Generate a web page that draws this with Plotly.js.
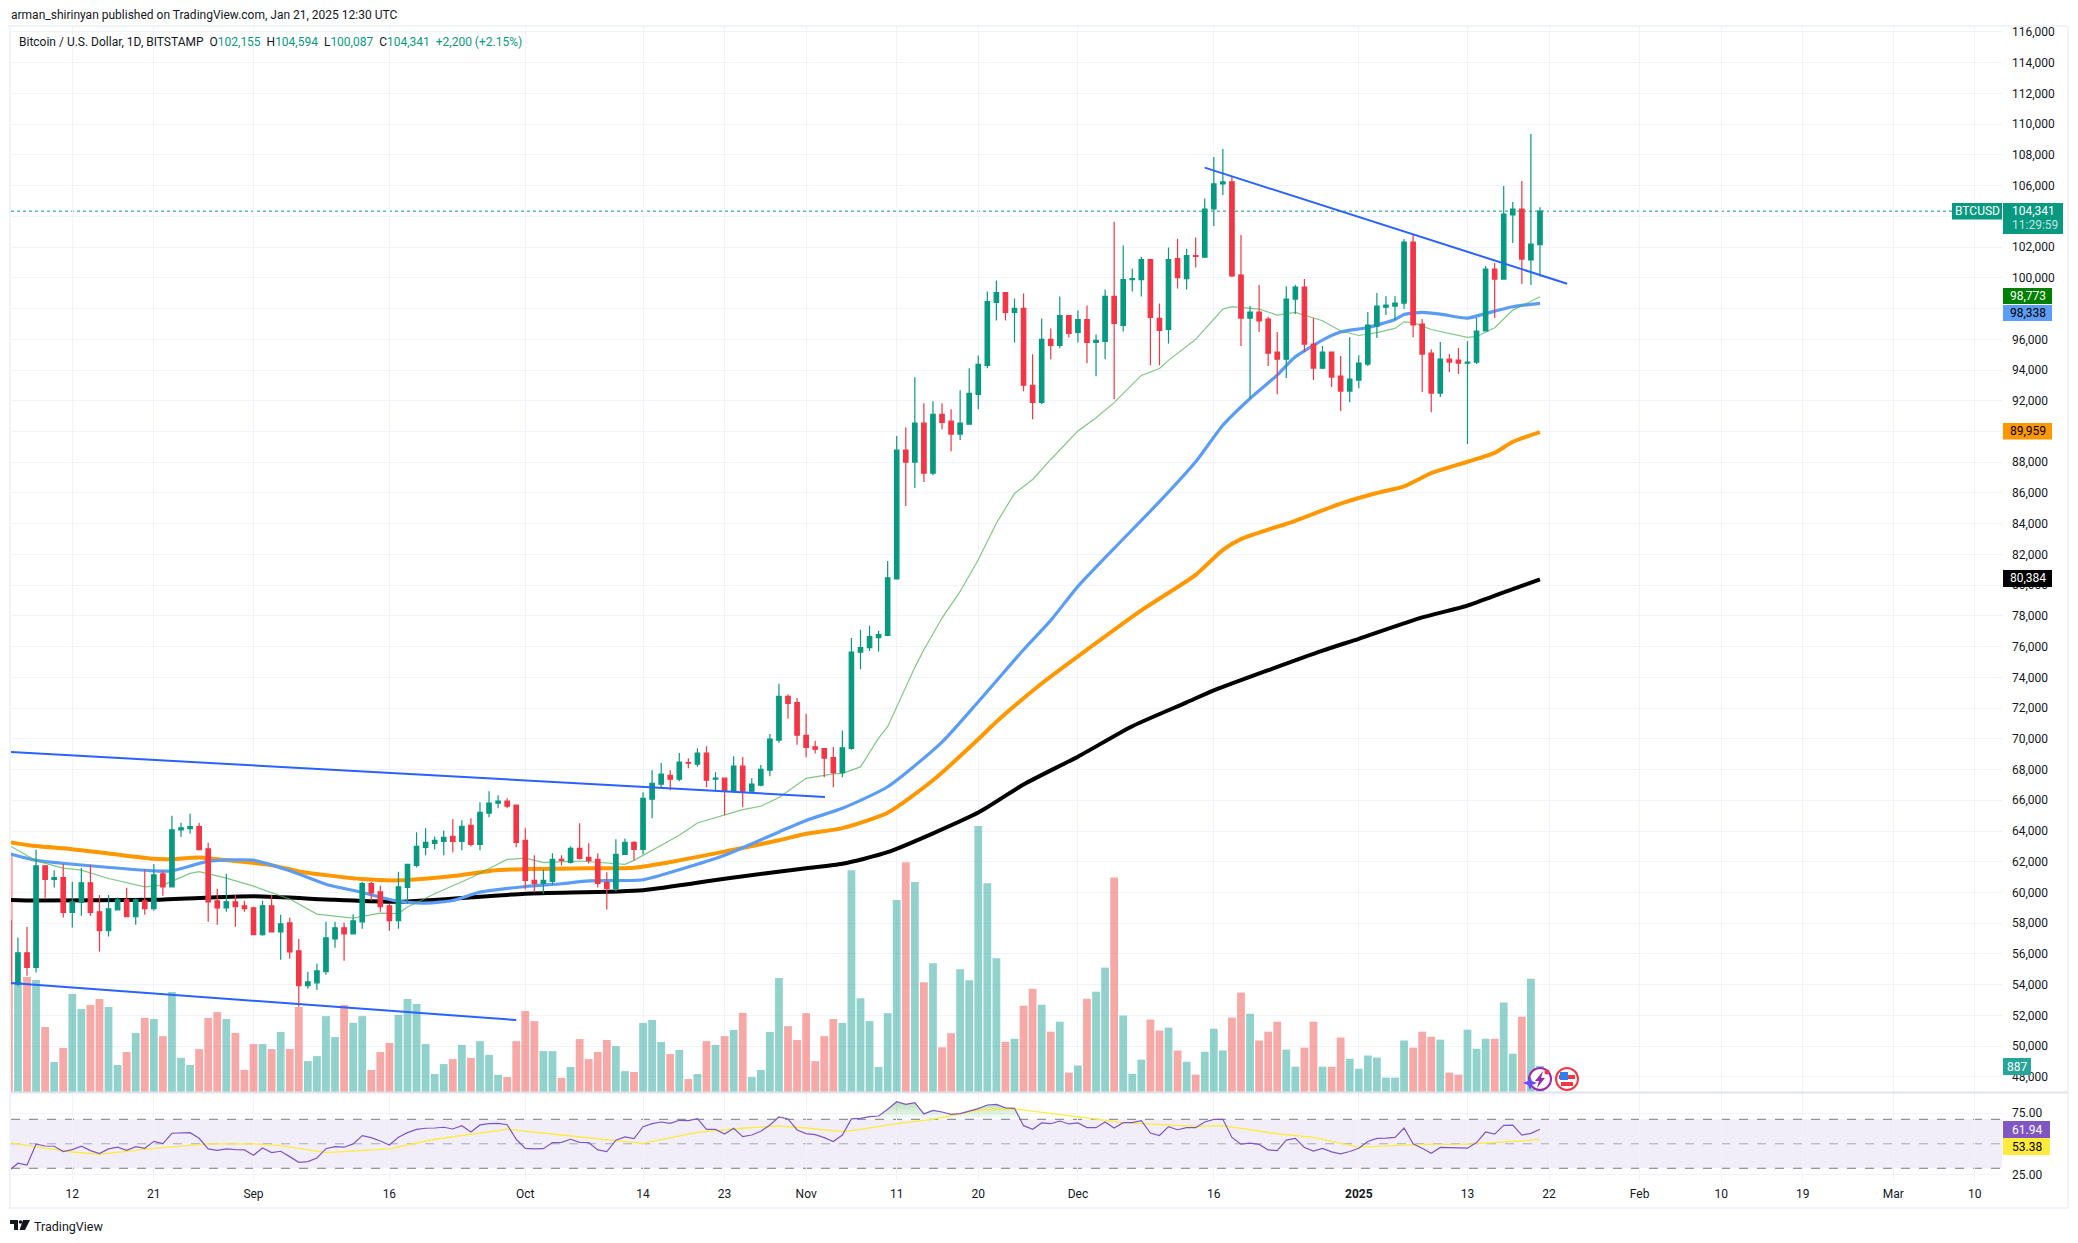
<!DOCTYPE html>
<html><head><meta charset="utf-8"><title>BTCUSD</title>
<script src="https://cdn.plot.ly/plotly-3.0.0.min.js"></script>
<style>html,body{margin:0;padding:0;background:#fff}#chart{width:2078px;height:1243px}</style>
</head><body><div id="chart"></div>
<script>
const firstDay='2024-08-05', barCount=170;
const dates=[];for(let i=0;i<barCount;i++){dates.push(new Date(Date.UTC(2024,7,5+i)).toISOString().slice(0,10));}

const open=[58160,54030,56070,55120,61740,60850,60960,58700,59350,60630,58740,57510,58870,59520,58420,59460,58940,61220,60370,64080,64150,64280,62840,59460,59000,59390,59130,
59000,57250,59130,57440,58030,56200,53930,54120,54840,56980,57700,57310,58090,60570,60040,59130,58160,60330,61760,62940,63200,63330,63660,63330,64370,63130,65160,65810,65940,65680,
63390,60790,60590,60720,62150,61960,62870,62290,62150,60650,60260,62480,63260,62810,66070,67050,67630,67370,68460,68350,69070,67370,67440,66590,68220,66590,66980,67960,69920,72760,72360,
70220,69470,69370,68770,67800,69370,75640,75930,76580,76730,80410,88790,88010,90540,87290,91120,90670,89830,90480,92420,94310,98400,99040,97750,98010,93010,91900,95990,95600,97550,
96450,97290,95800,95860,98790,96900,99890,99890,101190,97360,96640,101250,99950,101450,101350,104480,106110,106240,100180,97380,97770,97320,95170,94710,98620,99400,95690,94130,95170,93610,92630,
93350,94390,96860,98100,98160,98360,102330,96990,95100,92500,94710,94650,94450,94520,96540,100570,99920,104090,104480,101160,102155];
const high=[58300,57070,57770,62780,61740,61450,61850,60700,61590,61800,59830,59830,59680,60300,59630,61480,61850,61410,64990,64540,65120,64540,63230,60240,61220,59850,59460,
59070,59460,59850,58550,58350,56980,54840,55360,58090,58090,58030,58590,60700,60700,60440,59260,61350,61830,63920,64180,63650,64020,64760,64700,64830,65870,66590,66330,66130,65680,
64180,62420,61500,62550,62420,63000,64500,63200,62550,61310,63460,63520,63330,66520,67960,68420,67960,69070,68740,69390,69520,67830,67440,68870,68810,67440,68290,70310,73580,72900,72660,
71630,69870,69370,69470,70540,76560,77100,77360,77040,81580,89700,90280,93530,91840,91970,91840,91450,92680,94110,94950,99110,99820,99040,98660,98980,95020,97360,96710,98790,97550,
97880,98200,96320,99240,103650,102100,100600,101380,101250,98330,101970,102550,101900,102620,105170,107860,108380,106580,102790,98160,99530,97450,96470,99460,99530,99920,97380,95560,95170,94910,96140,
94970,97770,99010,98810,98810,102520,102790,97320,95360,95820,95040,95430,95880,97380,100770,100960,105970,104930,106300,109360,104594];
const low=[49200,53900,54580,54790,59570,60330,58370,57720,58480,58480,56160,57140,58870,58420,57900,58550,58810,59780,60370,63620,63820,62780,58090,57900,58740,57770,58740,
57250,57180,57440,55620,55680,52560,53730,53660,54640,56400,55550,57310,57640,59460,58740,57510,57640,59260,61630,62420,62810,62420,62610,62740,63000,62740,64890,65480,65480,62940,
60200,60000,59940,60520,61760,61890,62150,61890,60330,58890,60070,62480,62090,62480,64830,66790,66650,67240,68090,68180,66850,66590,65020,66520,65550,66460,66920,67570,69740,71310,69620,
68800,69050,67500,66850,67500,69290,74520,75720,75690,76670,80350,85150,86320,86710,87160,90150,88720,89440,90480,91450,94110,97230,97230,95800,92620,90800,91770,94700,95410,96120,
95800,94440,93590,94700,92100,96510,99110,98790,94310,94310,95730,99300,99240,100670,101290,103370,105390,100050,95560,92170,96470,94260,92430,93480,97640,95170,93350,94060,92890,91330,91910,
92820,94260,96080,97580,97250,97970,96140,92560,91260,92240,93870,93740,89180,94390,96540,97380,99920,102260,99600,99530,100087];
const close=[54030,56070,55120,61740,60850,60960,58700,59390,60630,58700,57510,58940,59520,58420,59520,58940,61150,60370,64080,64210,64280,62780,59390,59000,59390,59070,58940,
57250,59130,57440,57960,56140,53930,54190,54900,57050,57700,57310,58160,60570,59980,59070,58160,60370,61830,63000,63260,63390,63590,63330,64310,63130,65220,65810,65940,65610,63260,
60790,60590,60790,62150,62090,62870,62220,62090,60590,60260,62480,63260,62810,66130,67110,67700,67370,68480,68420,69070,67310,67440,66590,68220,66590,67050,68020,69980,72760,72310,70240,
69440,69320,68750,67800,69420,75640,75940,76650,76780,80480,88790,88010,90540,87290,91120,90600,89830,90540,92490,94370,98460,99040,97750,98010,93010,91900,95990,95600,97550,96380,
97290,95800,95930,98790,97030,99890,99950,101190,97420,96580,101190,100020,101450,101400,104480,106110,106240,100120,97380,97770,97190,95100,94710,98620,99400,95690,94130,95170,93540,92630,93410,
94450,96930,98160,98230,98360,102330,96930,95040,92500,94710,94520,94450,94520,96540,100570,99920,104150,104480,101220,102200,104341];
const volume=[8020,3750,3910,3810,2210,1020,1500,3330,2820,2960,3160,2890,920,1360,2010,2520,2480,1900,3400,1160,920,1460,2520,2720,2480,2010,750,
1630,1630,1460,2040,1460,2890,1050,1220,2580,1870,2960,2350,2580,750,1360,1670,2620,3160,2990,1630,610,950,1120,1600,1160,1730,1260,580,510,1730,
2750,2410,1390,1390,480,850,1800,1120,1360,1770,1560,710,680,2350,2450,1700,1290,1430,440,610,1730,1600,1900,2110,2690,510,750,2040,3875,2240,1770,
2680,1050,1900,2480,2350,7540,3190,2410,850,2680,6530,7810,7140,3730,4380,1520,2000,4170,3800,9040,7100,4550,1710,1810,2930,3510,2970,2050,2390,660,
900,3170,3410,4230,7290,2600,620,1100,2460,2090,2190,1410,1030,590,1370,2150,1410,2530,3380,2660,1750,2050,2390,1440,860,1510,2390,860,860,1850,1130,
790,1240,1170,490,490,1750,1510,2050,1880,1780,660,590,2120,1470,1810,1810,3040,1300,2560,3850,887];
const rsi=[28.1,34.1,32.7,49.6,48.2,48,43.6,45.2,48,44.4,42,45.8,47.2,44.7,47.7,46.3,52,50.1,58.6,58.8,59.1,54.5,45.8,44.7,45.8,45.2,45,
40.6,46.6,42.8,43.9,39.5,34.9,35.5,38.4,46,47.7,47.2,49.9,56.7,55,52.3,49,55.3,59.1,61.8,62.7,62.9,63.5,62.1,64.8,59.7,65.4,66.5,66.7,65.6,53.7,
46.3,45.8,46,51,51.2,53.7,51.2,51,45,43.6,52.9,55.6,54.2,64,66.5,67.8,66.7,69.2,68.9,70.5,61.8,61.8,58,62.7,55.9,57.2,60.2,65.4,71.9,70.3,61.3,
58.3,57.5,55,51.8,57.2,70.3,70.8,72.2,72.7,78.2,84.4,82.2,83.6,74.4,77.3,76,74.1,74.6,76.8,78.7,81.7,82.2,79.3,79,64.8,61.8,67,66.4,68.6,66.2,
67,63.2,63.2,67.8,62.9,67.3,67.3,68.9,58.8,56.8,64,61.5,63.2,63.2,67.8,70,70,55.2,49.7,50.5,49.5,45,44.5,53,54.4,47,44,46.2,43.4,41.8,43.7,
46.4,51.9,54.4,54.7,55.2,62.9,50,46.4,42.3,47,46.7,46.4,46.4,51,59.6,57.9,65,65.3,57.1,58.5,61.94];

const rsiMaDates=['2024-08-05','2024-08-08','2024-08-12','2024-08-15','2024-08-21','2024-08-27','2024-09-01','2024-09-04','2024-09-09','2024-09-13','2024-09-16','2024-09-21','2024-09-29','2024-10-05','2024-10-14','2024-10-20','2024-10-25','2024-10-29','2024-11-01','2024-11-05','2024-11-07','2024-11-11','2024-11-15','2024-11-20','2024-11-24','2024-12-01','2024-12-06','2024-12-14','2024-12-17','2024-12-23','2024-12-27','2025-01-01','2025-01-08','2025-01-13','2025-01-21'];
const rsiMa=[51,47.4,43.3,41.4,46.3,49.9,49.9,48.5,42.8,44.2,45.8,53.7,61.8,57.2,50.4,59.4,62.7,64.6,62.9,59.9,61.8,66.5,70,77.6,78.4,72,67.3,64.2,64.8,58.2,55.2,47.3,49.5,49.7,53.38];

const ma200Dates=['2024-08-05','2024-08-08','2024-08-21','2024-09-01','2024-09-10','2024-09-17','2024-10-01','2024-10-14','2024-10-23','2024-11-01','2024-11-05','2024-11-10','2024-11-20','2024-11-25','2024-12-01','2024-12-07','2024-12-13','2024-12-16','2024-12-28','2025-01-01','2025-01-08','2025-01-13','2025-01-17','2025-01-21'];
const ma200=[59520,59480,59520,59750,59520,59400,59915,60150,60900,61575,61870,62620,65200,67030,68840,70820,72370,73150,75740,76510,77900,78670,79530,80384];
const ma50Dates=['2024-08-05','2024-08-08','2024-08-21','2024-08-23','2024-08-27','2024-09-01','2024-09-05','2024-09-09','2024-09-13','2024-09-17','2024-09-20','2024-09-23','2024-09-26','2024-10-01','2024-10-05','2024-10-08','2024-10-14','2024-10-18','2024-10-23','2024-10-29','2024-11-01','2024-11-05','2024-11-10','2024-11-16','2024-11-20','2024-11-25','2024-11-28','2024-12-01','2024-12-05','2024-12-10','2024-12-14','2024-12-17','2024-12-20','2024-12-23','2024-12-25','2024-12-28','2024-12-30','2025-01-02','2025-01-05','2025-01-06','2025-01-08','2025-01-10','2025-01-13','2025-01-15','2025-01-18','2025-01-21'];
const ma50=[62540,62100,61410,61410,62020,62100,61410,60540,60000,59420,59310,59480,60020,60390,60570,60760,60830,61480,62420,63940,64690,65480,66880,69790,72410,75800,77710,79920,82400,85430,88030,90410,92150,93670,94860,95950,96470,96770,97290,97620,97750,97640,97380,97680,98120,98338];
const ma100Dates=['2024-08-05','2024-08-08','2024-08-12','2024-08-16','2024-08-21','2024-08-23','2024-08-26','2024-08-30','2024-09-03','2024-09-06','2024-09-09','2024-09-13','2024-09-17','2024-09-23','2024-09-28','2024-10-01','2024-10-08','2024-10-13','2024-10-18','2024-10-24','2024-10-29','2024-11-01','2024-11-05','2024-11-10','2024-11-15','2024-11-20','2024-11-22','2024-11-27','2024-12-02','2024-12-08','2024-12-14','2024-12-17','2024-12-19','2024-12-25','2024-12-30','2025-01-03','2025-01-06','2025-01-09','2025-01-13','2025-01-16','2025-01-18','2025-01-21'];
const ma100=[63280,63020,62820,62540,62190,62170,62280,62040,61780,61370,61130,60870,60790,61070,61460,61520,61570,61610,62090,62780,63400,63820,64190,65190,67300,69970,71110,73600,75800,78360,80670,82300,83000,84190,85310,86000,86430,87290,88030,88610,89330,89959];
const ma20Dates=['2024-08-05','2024-08-08','2024-08-11','2024-08-13','2024-08-16','2024-08-20','2024-08-22','2024-08-25','2024-08-26','2024-08-29','2024-09-01','2024-09-05','2024-09-08','2024-09-12','2024-09-15','2024-09-17','2024-09-18','2024-09-21','2024-09-25','2024-09-29','2024-10-01','2024-10-03','2024-10-07','2024-10-12','2024-10-13','2024-10-18','2024-10-20','2024-10-23','2024-10-25','2024-10-27','2024-10-29','2024-11-01','2024-11-04','2024-11-05','2024-11-07','2024-11-09','2024-11-10','2024-11-13','2024-11-14','2024-11-16','2024-11-18','2024-11-20','2024-11-22','2024-11-24','2024-11-26','2024-11-28','2024-12-01','2024-12-03','2024-12-05','2024-12-08','2024-12-10','2024-12-11','2024-12-14','2024-12-17','2024-12-18','2024-12-21','2024-12-23','2024-12-25','2024-12-28','2024-12-30','2025-01-01','2025-01-03','2025-01-05','2025-01-06','2025-01-07','2025-01-09','2025-01-13','2025-01-14','2025-01-16','2025-01-18','2025-01-20','2025-01-21'];
const ma20=[63080,62060,61590,61450,60910,60370,60480,61240,61350,60930,60410,59570,58590,58330,58650,58630,59050,59920,60960,62150,62240,61940,62050,61830,62090,63720,64520,65020,65390,65610,66180,67430,67720,67750,68170,70040,70790,74650,75800,77860,79590,81650,84030,85970,86880,88180,90040,90890,91880,93650,94100,94630,96000,97970,98120,97970,97580,97750,97210,96540,96250,96430,96710,97140,97080,96640,96120,96170,96750,97900,98490,98773];
const trendTopDates=['2024-08-05 05:37','2024-11-03 02:00'];const trendTop=[69140,66215];
const trendLowDates=['2024-08-05 05:37','2024-09-30 00:00'];const trendLow=[54110,51700];
const trendRecentDates=['2024-12-15 00:00','2025-01-24 00:00'];const trendRecent=[107170,99620];

const priceTicks=[];for(let p=48000;p<=116000;p+=2000)priceTicks.push(p);
const coveredTicks=[104000,98000,90000];
const priceLabels=priceTicks.map(p=>coveredTicks.includes(p)?'':p.toLocaleString('en-US'));
const timeTickDates=['2024-08-12','2024-08-21','2024-09-01','2024-09-16','2024-10-01','2024-10-14','2024-10-23','2024-11-01','2024-11-11','2024-11-20','2024-12-01','2024-12-16','2025-01-01','2025-01-13','2025-01-22','2025-02-01','2025-02-10','2025-02-19','2025-03-01','2025-03-10'];
const timeTickLabels=['12','21','Sep','16','Oct','14','23','Nov','11','20','Dec','16','<b>2025</b>','13','22','Feb','10','19','Mar','10'];

const W=2078,H=1243;
const px=x=>x/W, py=y=>1-y/H;
const FONT='Roboto, sans-serif', INK='#131722', GRID='#f0f3fa';
const UP='#089981', DOWN='#f23645';
const DAY=86400000;

const traces=[
 {type:'bar',x:dates,y:volume,xaxis:'x',yaxis:'y',width:DAY*0.86,hoverinfo:'skip',
  marker:{color:close.map((c,i)=>c>=open[i]?'rgba(38,166,154,0.5)':'rgba(239,83,80,0.5)'),line:{width:0}}},
 {type:'scatter',mode:'lines',x:ma200Dates,y:ma200,xaxis:'x',yaxis:'y2',line:{color:'#000000',width:4,shape:'spline',smoothing:0.6},hoverinfo:'skip'},
 {type:'scatter',mode:'lines',x:ma100Dates,y:ma100,xaxis:'x',yaxis:'y2',line:{color:'#ff9800',width:4,shape:'spline',smoothing:0.6},hoverinfo:'skip'},
 {type:'scatter',mode:'lines',x:ma50Dates,y:ma50,xaxis:'x',yaxis:'y2',line:{color:'#5b9cf6',width:3.2,shape:'spline',smoothing:0.6},hoverinfo:'skip'},
 {type:'scatter',mode:'lines',x:ma20Dates,y:ma20,xaxis:'x',yaxis:'y2',line:{color:'#4caf50',width:1.2},opacity:0.7,hoverinfo:'skip'},
 {type:'candlestick',x:dates,open,high,low,close,xaxis:'x',yaxis:'y3',width:DAY*0.76,whiskerwidth:0,hoverinfo:'skip',
  increasing:{line:{color:UP,width:1.2},fillcolor:UP},decreasing:{line:{color:DOWN,width:1.2},fillcolor:DOWN}},
 {type:'scatter',mode:'lines',x:trendTopDates,y:trendTop,xaxis:'x',yaxis:'y3',line:{color:'#2962ff',width:2},hoverinfo:'skip'},
 {type:'scatter',mode:'lines',x:trendLowDates,y:trendLow,xaxis:'x',yaxis:'y3',line:{color:'#2962ff',width:2},hoverinfo:'skip'},
 {type:'scatter',mode:'lines',x:trendRecentDates,y:trendRecent,xaxis:'x',yaxis:'y3',line:{color:'#2962ff',width:2},hoverinfo:'skip'},
 {type:'scatter',mode:'lines',x:dates,y:rsi.map(()=>70),xaxis:'x',yaxis:'y4',line:{width:0},hoverinfo:'skip'},
 {type:'scatter',mode:'lines',x:dates,y:rsi.map(v=>Math.max(v,70)),xaxis:'x',yaxis:'y4',line:{width:0},fill:'tonexty',
  fillgradient:{type:'vertical',colorscale:[[0,'rgba(76,175,80,0.02)'],[1,'rgba(76,175,80,0.4)']]},hoverinfo:'skip'},
 {type:'scatter',mode:'lines',x:rsiMaDates,y:rsiMa,xaxis:'x',yaxis:'y4',line:{color:'#ffeb3b',width:1.3},hoverinfo:'skip'},
 {type:'scatter',mode:'lines',x:dates,y:rsi,xaxis:'x',yaxis:'y4',line:{color:'#7e57c2',width:1.2},hoverinfo:'skip'}
];

const pricePane=[py(1092),py(27)], rsiPane=[py(1181),py(1093)];
const priceRange=[47015,116325];

const shapes=[];
const box=(x0,y0,x1,y1,fill)=>shapes.push({type:'rect',xref:'paper',yref:'paper',x0:px(x0),x1:px(x1),y0:py(y0),y1:py(y1),fillcolor:fill,line:{width:0},layer:'above'});
const rule=(x0,y0,x1,y1,color,w)=>shapes.push({type:'line',xref:'paper',yref:'paper',x0:px(x0),x1:px(x1),y0:py(y0),y1:py(y1),line:{color,width:w},layer:'above'});
rule(8,26,2068,26,GRID,2);rule(10,26,10,1208,GRID,2);rule(2068,26,2068,1208,GRID,2);rule(8,1208,2068,1208,GRID,2);
rule(11,1092.5,2068,1092.5,'#e0e3eb',2);
shapes.push({type:'rect',xref:'paper',yref:'y4',x0:px(11),x1:px(2002),y0:30,y1:70,fillcolor:'rgba(126,87,194,0.1)',line:{width:0},layer:'below'});
[[70,'#787b86'],[50,'rgba(120,123,134,0.6)'],[30,'#787b86']].forEach(l=>shapes.push({type:'line',xref:'paper',yref:'y4',x0:px(11),x1:px(2002),y0:l[0],y1:l[0],line:{color:l[1],width:1,dash:'dash'},layer:'below'}));
shapes.push({type:'line',xref:'paper',yref:'y3',x0:px(11),x1:px(1952),y0:close[close.length-1],y1:close[close.length-1],line:{color:UP,width:1,dash:'dot'},layer:'below'});

const annotations=[];
const text=(x,y,t,o={})=>annotations.push(Object.assign({xref:'paper',yref:'paper',x:px(x),y:py(y),text:t,showarrow:false,xanchor:'left',yanchor:'middle',borderpad:0,
   font:{family:FONT,size:12,color:INK}},o));
const tag=(x0,y0,x1,y1,fill,t,color)=>{box(x0,y0,x1,y1,fill);
   text((x0+x1)/2,(y0+y1)/2,t,{xanchor:'center',font:{family:FONT,size:12,color}});};

text(10,15,'arman_shirinyan published on TradingView.com, Jan 21, 2025 12:30 UTC');
const g=s=>'<span style="color:'+UP+'">'+s+'</span>';
text(18,42,'Bitcoin / U.S. Dollar, 1D, BITSTAMP\u00a0\u00a0O'+g('102,155')+'\u00a0\u00a0H'+g('104,594')+'\u00a0\u00a0L'+g('100,087')+'\u00a0\u00a0C'+g('104,341')+'\u00a0\u00a0'+g('+2,200 (+2.15%)'));

tag(1952,203,2002,219.5,UP,'BTCUSD','#ffffff');
box(2003,203,2063,234,UP);
text(2011,211,'104,341',{font:{family:FONT,size:12,color:'#ffffff'}});
text(2011,225,'11:29:59',{font:{family:FONT,size:12,color:'rgba(255,255,255,0.75)'}});
tag(2003,288,2052,304,'#008000','98,773','#ffffff');
tag(2003,305,2052,321,'#5b9cf6','98,338','#000000');
tag(2003,423,2052,439.5,'#ff9800','89,959','#000000');
tag(2003,570,2052,587,'#000000','80,384','#ffffff');
tag(2003,1058,2031,1075,'#26a69a','887','#ffffff');
tag(2003,1121,2050,1138,'#7e57c2','61.94','#ffffff');
tag(2003,1138,2050,1155,'#ffeb3b','53.38','#000000');

const circle=(cx,cy,r,fill,line,w)=>shapes.push({type:'circle',xref:'paper',yref:'paper',x0:px(cx-r),x1:px(cx+r),y0:py(cy-r),y1:py(cy+r),fillcolor:fill,line:{color:line,width:w},layer:'above'});
const poly=(pts,fill)=>shapes.push({type:'path',xref:'paper',yref:'paper',path:'M'+pts.map(p=>px(p[0])+','+py(p[1])).join(' L')+' Z',fillcolor:fill,line:{width:0},layer:'above'});
circle(1540,1079,11,'#ffffff','#9c27b0',2);
poly([[1543,1071],[1535,1081],[1539,1081],[1537,1088],[1545,1078],[1541,1078]],'#9c27b0');
poly([[1530,1076],[1532,1081],[1537,1083],[1532,1085],[1530,1090],[1528,1085],[1523,1083],[1528,1081]],'#6a4cff');
circle(1547,1072,2.5,'#f23645','#f23645',0);
circle(1567,1079,11,'#ffffff','#f23645',2);
box(1559,1075,1575,1079,'#f23645');box(1561,1082,1573,1086,'#f23645');box(1560,1072,1568,1080,'#2f80ed');

box(10,1220,18,1224,INK);box(14,1220,18,1230,INK);circle(20.5,1222,1.8,INK,INK,0);
poly([[23,1220],[30,1220],[25,1230],[19.5,1230]],INK);
text(33,1226,'TradingView',{font:{family:FONT,size:12.5,color:INK}});

const layout={
 width:W,height:H,autosize:false,margin:{l:0,r:0,t:0,b:0,pad:0},paper_bgcolor:'#ffffff',plot_bgcolor:'#ffffff',showlegend:false,
 font:{family:FONT,size:12,color:INK},dragmode:false,hovermode:false,
 xaxis:{type:'date',domain:[px(11),px(2002)],range:['2024-08-05 05:37','2025-03-13 00:00'],anchor:'y4',tickmode:'array',tickvals:timeTickDates,ticktext:timeTickLabels,
   tickangle:0,showgrid:true,gridcolor:GRID,gridwidth:1,ticks:'',ticklabelstandoff:4,showline:false,zeroline:false,rangeslider:{visible:false},tickfont:{family:FONT,size:12,color:INK}},
 yaxis:{domain:pricePane,range:[0,36210],anchor:'x',side:'right',showgrid:false,showticklabels:false,ticks:'',zeroline:false,fixedrange:true},
 yaxis2:{domain:pricePane,range:priceRange,anchor:'x',overlaying:'y',side:'right',showgrid:false,showticklabels:false,ticks:'',zeroline:false,fixedrange:true},
 yaxis3:{domain:pricePane,range:priceRange,anchor:'x',overlaying:'y',side:'right',tickmode:'array',tickvals:priceTicks,ticktext:priceLabels,showgrid:true,gridcolor:GRID,gridwidth:1,
   ticks:'',ticklabelstandoff:9,zeroline:false,showline:false,fixedrange:true,tickfont:{family:FONT,size:12,color:INK}},
 yaxis4:{domain:rsiPane,range:[19.6,91.5],anchor:'x',side:'right',tickmode:'array',tickvals:[25,75],ticktext:['25.00','75.00'],showgrid:true,gridcolor:GRID,gridwidth:1,
   ticks:'',ticklabelstandoff:9,zeroline:false,showline:false,fixedrange:true,tickfont:{family:FONT,size:12,color:INK}},
 shapes,annotations
};
Plotly.newPlot('chart',traces,layout,{displayModeBar:false,staticPlot:true});
</script></body></html>
